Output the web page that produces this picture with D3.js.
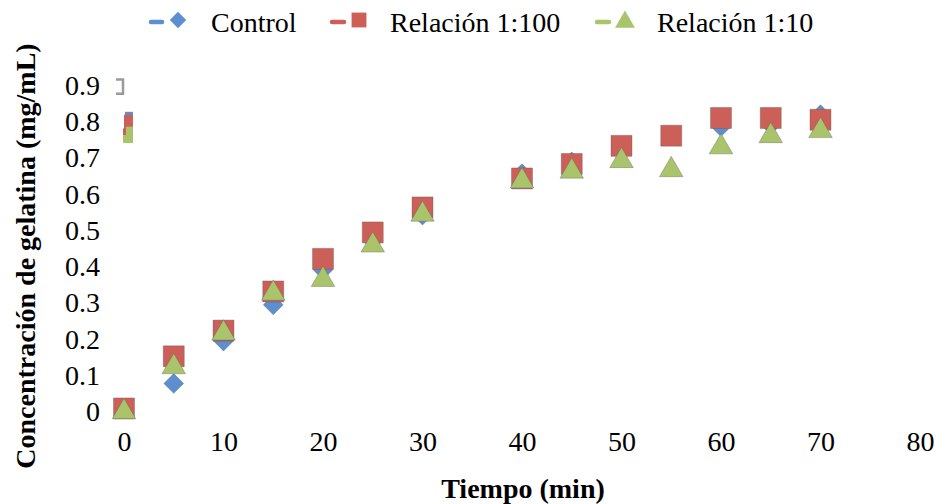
<!DOCTYPE html>
<html><head><meta charset="utf-8">
<script src="https://cdn.jsdelivr.net/npm/d3@7"></script>
<style>body{margin:0;background:#fff}svg{display:block}text{font-family:"Liberation Serif",serif}</style>
</head><body><svg id="c" width="938" height="504"></svg>
<script>
const times = [0,5,10,15,20,25,30,40,45,50,55,60,65,70];
const control = [0.007,0.076,0.193,0.293,0.39,0.47,0.541,0.655,0.688,0.73,0.76,0.785,0.79,0.818];
const rel100 = [0.007,0.151,0.222,0.33,0.42,0.493,0.562,0.642,0.682,0.732,0.76,0.809,0.809,0.804];
const rel10 = [0.007,0.131,0.224,0.334,0.372,0.467,0.552,0.644,0.671,0.70,0.675,0.738,0.769,0.783];
const seriesNames = ["Control","Relación 1:100","Relación 1:10"];
const xTicks = [0,10,20,30,40,50,60,70,80];
const yTicks = [0,0.1,0.2,0.3,0.4,0.5,0.6,0.7,0.8,0.9];
// stray rendering fragments near the y axis top (data units)
const strayRects = [
  {x0:0.1,x1:0.9,y0:0.81,y1:0.826,c:"#5B8FCF"},
  {x0:0.0,x1:0.9,y0:0.749,y1:0.818,c:"#CD5F59"},
  {x0:-0.1,x1:0.3,y0:0.76,y1:0.78,c:"#CD5F59"},
  {x0:0.2,x1:0.9,y0:0.74,y1:0.785,c:"#A9C46A"},
  {x0:-0.1,x1:0.9,y0:0.74,y1:0.762,c:"#A9C46A"}
];
const strayBracket = [[-0.8,0.915],[-0.1,0.915],[-0.1,0.876],[-0.8,0.876]];

const colors = ["#5B8FCF","#CD5F59","#A9C46A"];
const shapes = [d3.symbolDiamond2, d3.symbolSquare, d3.symbolTriangle];

const svg = d3.select("#c");
const x = d3.scaleLinear().domain([0,80]).range([124,920]);
const y = d3.scaleLinear().domain([0,0.9]).range([411,85]);

// axes (labels only)
const xAxis = svg.append("g").attr("transform","translate(0,431)")
  .call(d3.axisBottom(x).tickValues(xTicks).tickSize(0).tickPadding(0).tickFormat(d3.format("d")));
xAxis.select(".domain").remove();
xAxis.selectAll("text").attr("font-size",28).attr("fill","#000").attr("dy","0.71em")
  .style("font-family","Liberation Serif");

const yAxis = svg.append("g").attr("transform","translate(100,0)")
  .call(d3.axisLeft(y).tickValues(yTicks).tickSize(0).tickPadding(0).tickFormat(d=>d===0?"0":d3.format(".1f")(d)));
yAxis.select(".domain").remove();
yAxis.selectAll("text").attr("font-size",28).attr("fill","#000").attr("dy","0.34em")
  .style("font-family","Liberation Serif");

// titles
svg.append("text").attr("x",523).attr("y",498).attr("text-anchor","middle")
  .attr("font-size",28).attr("font-weight","bold").text("Tiempo (min)");
svg.append("text").attr("transform","translate(35,256) rotate(-90)").attr("text-anchor","middle")
  .attr("font-size",28).attr("font-weight","bold").text("Concentración de gelatina (mg/mL)");

// stray fragments
svg.append("path").attr("d", d3.line().x(d=>x(d[0])).y(d=>y(d[1]))(strayBracket))
  .attr("fill","none").attr("stroke","#9a9a9a").attr("stroke-width",2.5);
svg.selectAll("rect.stray").data(strayRects).join("rect").attr("class","stray")
  .attr("x",d=>x(d.x0)).attr("width",d=>x(d.x1)-x(d.x0))
  .attr("y",d=>y(d.y1)).attr("height",d=>y(d.y0)-y(d.y1)).attr("fill",d=>d.c);

// markers
const markerSize = [250, 441, 240];
const allSeries = [control, rel100, rel10];
allSeries.forEach((vals,i)=>{
  const sym = d3.symbol().type(shapes[i]).size(markerSize[i]);
  const side = Math.sqrt(markerSize[i]*4/Math.sqrt(3));
  const dy = i===2 ? side*Math.sqrt(3)/2/6 : 0; // centre triangle bbox on point
  svg.append("g").selectAll("path").data(times.map((t,j)=>({t,v:vals[j]}))).join("path")
    .attr("d", sym)
    .attr("transform", d=>`translate(${x(d.t)},${y(d.v)+dy})`)
    .attr("fill",colors[i]).attr("stroke","rgba(90,90,90,0.45)").attr("stroke-width",0.8);
});

// legend
const leg = [
  {dash:[151,162], mk:178, tx:211},
  {dash:[332,344], mk:359, tx:390},
  {dash:[597,609], mk:625, tx:657}
];
leg.forEach((l,i)=>{
  const g = svg.append("g");
  g.append("line").attr("x1",l.dash[0]).attr("x2",l.dash[1]).attr("y1",22).attr("y2",22)
    .attr("stroke",colors[i]).attr("stroke-width",4.5).attr("stroke-linecap","round");
  g.append("path").attr("d", d3.symbol().type(shapes[i]).size(i===1?220:170)())
    .attr("transform",`translate(${l.mk},${i===2?22:20})`).attr("fill",colors[i]);
  g.append("text").attr("x",l.tx).attr("y",32).attr("font-size",28).attr("fill","#000").text(seriesNames[i]);
});
</script></body></html>
